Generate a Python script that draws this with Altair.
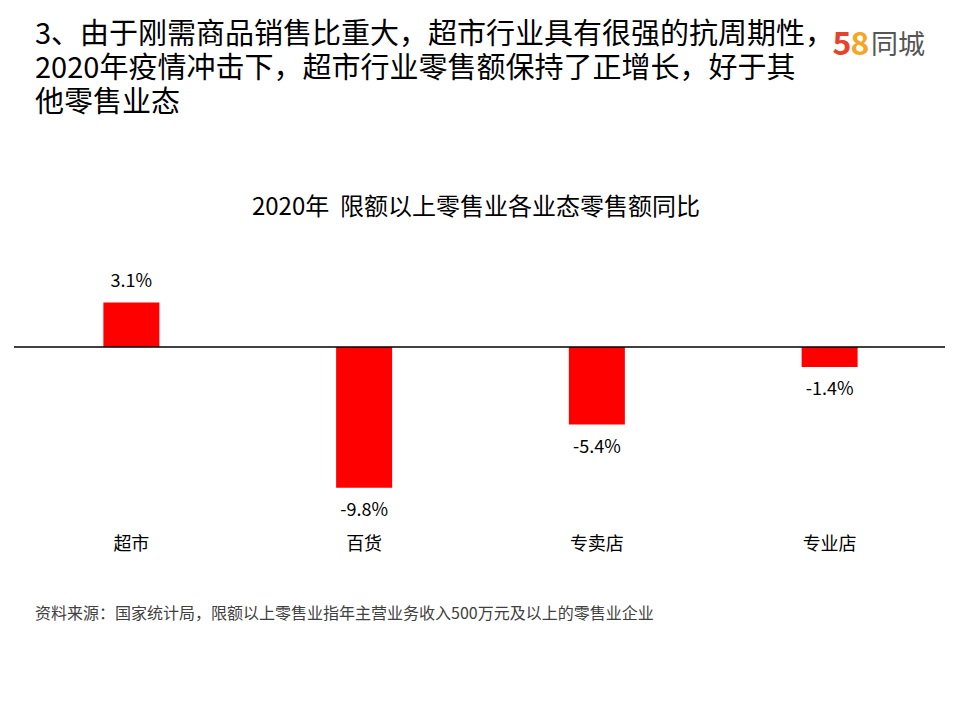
import altair as alt
import pandas as pd

categories = ["超市", "百货", "专卖店", "专业店"]
values = [3.1, -9.8, -5.4, -1.4]
labels = [f"{v}%" for v in values]

title_lines = ["3、由于刚需商品销售比重大，超市行业具有很强的抗周期性，",
               "2020年疫情冲击下，超市行业零售额保持了正增长，好于其",
               "他零售业态"]
chart_title = "2020年\u00a0\u00a0限额以上零售业各业态零售额同比"
footnote = "资料来源：国家统计局，限额以上零售业指年主营业务收入500万元及以上的零售业企业"

FONT = "Noto Sans CJK SC"
LEFT, TOP = 15, 250

df = pd.DataFrame({"cat": categories, "v": values, "label": labels,
                   "base": [0] * len(values)})

xscale = alt.Scale(domain=categories, paddingInner=0, paddingOuter=0)
yscale = alt.Scale(domain=[-12.75, 6.76], nice=False, zero=False)

X = alt.X("cat:N", scale=xscale, axis=None)
Y = alt.Y("v:Q", scale=yscale, axis=None)

base = alt.Chart(df)

bars = base.mark_bar(color="#FF0000", size=56).encode(
    x=X, y=Y, y2="base:Q",
)

zero = alt.Chart(pd.DataFrame({"z": [0]})).mark_rule(
    color="#000000", strokeWidth=1.5
).encode(
    y=alt.Y("z:Q", scale=yscale, axis=None), x=alt.value(-1), x2=alt.value(930)
)

pos_lab = base.transform_filter("datum.v > 0").mark_text(
    font=FONT, fontSize=18, color="#000000", baseline="middle", dy=-21
).encode(x=X, y=Y, text="label:N")

neg_lab = base.transform_filter("datum.v < 0").mark_text(
    font=FONT, fontSize=18, color="#000000", baseline="middle", dy=23
).encode(x=X, y=Y, text="label:N")

cat_lab = base.mark_text(
    font=FONT, fontSize=18, color="#000000", baseline="middle"
).encode(x=X, y=alt.value(545 - TOP), text="cat:N")


def txt(s, x, y, size, color="#000000", align="left", weight="normal"):
    return alt.Chart(pd.DataFrame({"t": [s]})).mark_text(
        font=FONT, fontSize=size, color=color, align=align,
        baseline="middle", fontWeight=weight
    ).encode(x=alt.value(x - LEFT), y=alt.value(y - TOP), text="t:N")


header = [txt(line, 35, 35 + i * 34, 29) for i, line in enumerate(title_lines)]
ctitle = txt(chart_title, 476, 208, 24, align="center")
foot = txt(footnote, 35, 614, 16, color="#404040")
logo5 = txt("5", 842, 45, 32, color="#E8412C", align="center", weight="bold")
logo8 = txt("8", 860, 45, 32, color="#F5A623", align="center", weight="bold")
logoT = txt("同城", 871, 46, 27, color="#555555")

chart = alt.layer(
    bars, zero, pos_lab, neg_lab, cat_lab, *header, ctitle, foot, logo5, logo8, logoT
).properties(
    width=931, height=280,
    autosize=alt.AutoSizeParams(type="none"),
    padding={"left": LEFT, "top": TOP, "right": 14, "bottom": 190},
    background="#FFFFFF",
).configure_view(strokeWidth=0)

chart.save("out.html", embed_options={"renderer": "svg", "actions": False})
